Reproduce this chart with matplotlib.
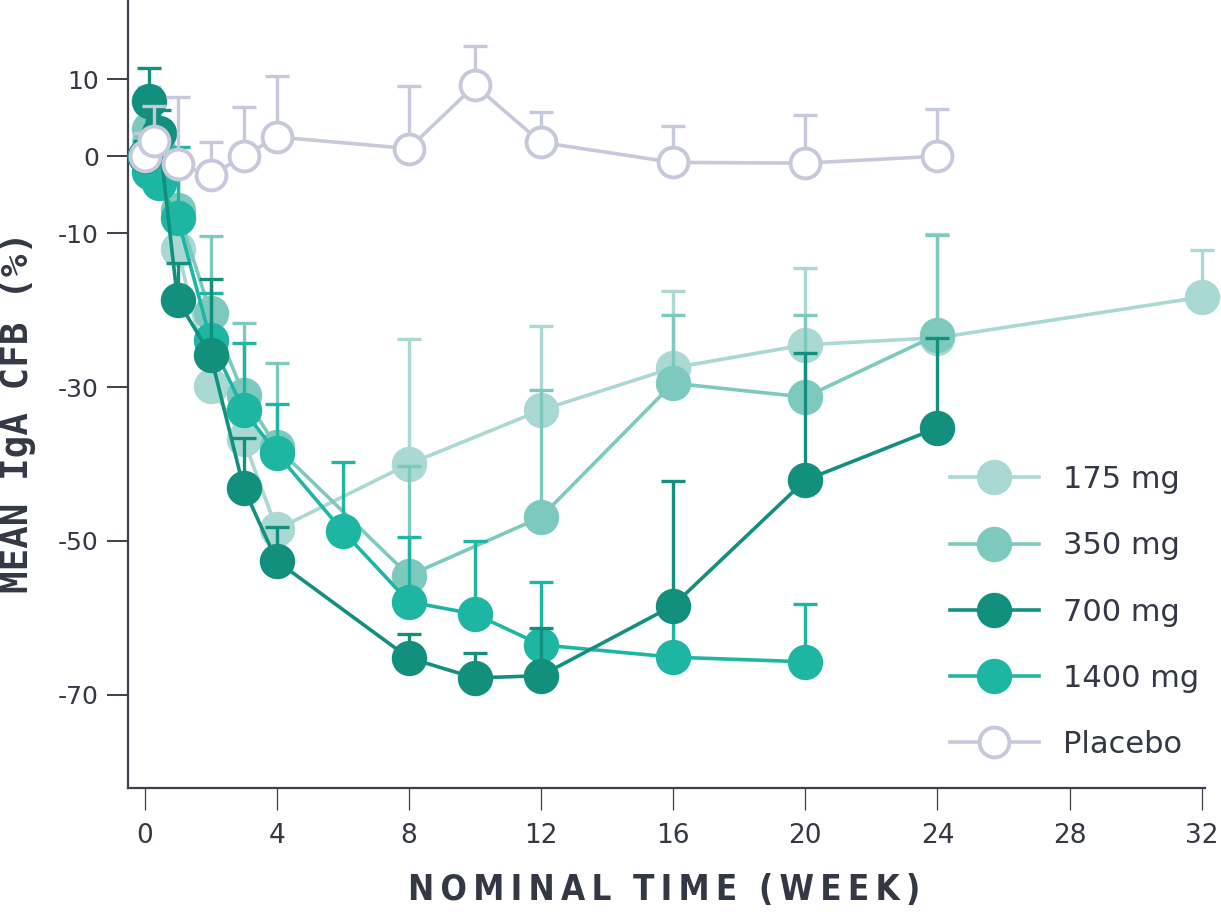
import matplotlib
matplotlib.use("Agg")
import matplotlib.pyplot as plt
import numpy as np

# ── Data ─────────────────────────────────────────────────────────────────────

t_175 = [0, 0.14, 0.43, 1, 2, 3, 4, 8, 12, 16, 20, 24, 32]
v_175 = [0, 2, -3, -12, -29.8, -36.8, -48.5, -40, -33, -27.5, -24.5, -23.6, -18.3]
e_175 = [3, 7, 4, 3, 1, 1, 0.5, 16.2, 11, 10, 10, 13.5, 6.1]

t_350 = [0, 0.14, 0.43, 1, 2, 3, 4, 8, 12, 16, 20, 24]
v_350 = [0, 3.5, 0.5, -7, -20.4, -31, -37.8, -54.5, -46.9, -29.5, -31.3, -23.2]
e_350 = [3, 5, 3, 5.5, 10, 9.3, 10.9, 14.3, 16.5, 8.9, 10.7, 13]

t_700 = [0, 0.14, 0.43, 1, 2, 3, 4, 8, 10, 12, 16, 20, 24]
v_700 = [0, 7.2, 3, -18.7, -25.8, -43.1, -52.6, -65.2, -67.8, -67.5, -58.4, -42.1, -35.3]
e_700 = [2, 4.2, 3, 4.8, 9.8, 6.5, 4.4, 3.1, 3.3, 6.2, 16.2, 16.5, 11.7]

t_1400 = [0, 0.14, 0.43, 1, 2, 3, 4, 6, 8, 10, 12, 16, 20]
v_1400 = [0, -2, -3.5, -8, -23.9, -33, -38.6, -48.7, -57.9, -59.5, -63.5, -65.1, -65.7]
e_1400 = [2, 3, 3, 9.2, 6.1, 8.7, 6.4, 9, 8.4, 9.5, 8.2, 8, 7.5]

t_pbo = [0, 0.29, 1, 2, 3, 4, 8, 10, 12, 16, 20, 24]
v_pbo = [0, 2, -1, -2.5, 0, 2.5, 1, 9.2, 1.8, -0.8, -0.9, 0]
e_pbo = [3, 4.5, 8.7, 4.3, 6.4, 7.9, 8.1, 5.1, 3.9, 4.7, 6.2, 6.2]

x_ticks = [0, 4, 8, 12, 16, 20, 24, 28, 32]
y_ticks = [10, 0, -10, -30, -50, -70]

# ── Style ────────────────────────────────────────────────────────────────────

C_175  = "#a9d9d2"
C_350  = "#7dc9bd"
C_700  = "#138f7e"
C_1400 = "#1eb6a3"
C_PBO  = "#c6c9dc"
AXIS   = "#3b404b"
TEXT   = "#333844"

W, H = 1221, 914
fig = plt.figure(figsize=(W / 100, H / 100), dpi=100)
ax = fig.add_axes([128 / W, 1 - 788 / H, (1205 - 128) / W, 788 / H])

MS = 25.5
LW = 2.6


def series(t, v, e, color, label, open_marker=False, z=3):
    t = np.asarray(t); v = np.asarray(v); e = np.asarray(e)
    ax.errorbar(t, v, yerr=[np.zeros_like(e), e], fmt="none", ecolor=color,
                elinewidth=2.4, capsize=8.5, capthick=2.4, zorder=z, clip_on=False)
    if open_marker:
        ax.plot(t, v, color=color, lw=LW, marker="o", ms=MS - 4,
                mfc="white", mec=color, mew=2.8, label=label, zorder=z + 0.5,
                clip_on=False)
    else:
        ax.plot(t, v, color=color, lw=LW, marker="o", ms=MS,
                mfc=color, mec="none", label=label, zorder=z + 0.5, clip_on=False)


series(t_175, v_175, e_175, C_175, "175 mg", z=2)
series(t_350, v_350, e_350, C_350, "350 mg", z=3)
series(t_1400, v_1400, e_1400, C_1400, "1400 mg", z=4)
series(t_700, v_700, e_700, C_700, "700 mg", z=5)
series(t_pbo, v_pbo, e_pbo, C_PBO, "Placebo", open_marker=True, z=6)

# ── Axes ─────────────────────────────────────────────────────────────────────

ax.set_xlim(-0.5, 32.1)
ax.set_ylim(-82.1, 20.3)
for s in ("top", "right"):
    ax.spines[s].set_visible(False)
for s in ("left", "bottom"):
    ax.spines[s].set_color(AXIS)
    ax.spines[s].set_linewidth(1.6)

ax.set_xticks(x_ticks)
ax.set_yticks(y_ticks)
ax.set_yticklabels([str(v) for v in y_ticks])
ax.tick_params(axis="x", length=16, width=0.9, color=AXIS, pad=9,
               labelsize=19, labelcolor=TEXT)
ax.tick_params(axis="y", length=15, width=1.4, color=AXIS, pad=6,
               labelsize=18, labelcolor=TEXT)
for lab in ax.get_xticklabels():
    lab.set_family(["Liberation Sans Narrow", "DejaVu Sans"])

fig.text(18 / W, 1 - 412 / H, "MEAN IgA CFB (%)", rotation=90, ha="center",
         va="center", fontsize=27, family="DejaVu Sans Mono", fontweight="bold",
         color=TEXT)
fig.text(664 / W, 1 - 890 / H, "\u2009".join("NOMINAL") + "  " + "\u2009".join("TIME")
         + "  " + "\u2009".join("(WEEK)"),
         ha="center", va="center", fontsize=25, family="DejaVu Sans",
         fontstretch="condensed", fontweight="bold", color=TEXT)

# ── Legend ───────────────────────────────────────────────────────────────────

handles, labels = ax.get_legend_handles_labels()
order = ["175 mg", "350 mg", "700 mg", "1400 mg", "Placebo"]
hmap = dict(zip(labels, handles))
leg = fig.legend([hmap[k] for k in order], order, loc="upper left",
                 bbox_to_anchor=(950 / W, 1 - 465 / H), frameon=False,
                 fontsize=22, handlelength=2.9, handletextpad=0.8,
                 labelspacing=1.22, borderpad=0, borderaxespad=0)
for txt in leg.get_texts():
    txt.set_color(TEXT)

fig.savefig("out.png", dpi=100, facecolor="white")
